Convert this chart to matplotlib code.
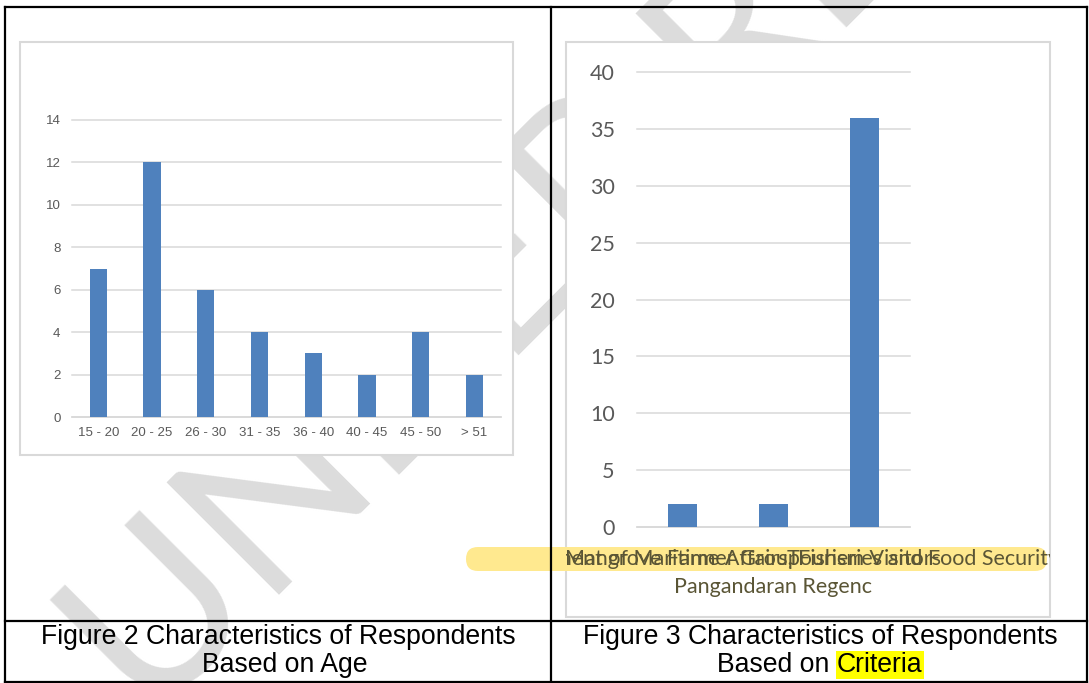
import matplotlib
matplotlib.use("Agg")
import matplotlib.pyplot as plt
from matplotlib.patches import Rectangle, FancyBboxPatch

# ---- data ----
age_groups = ["15 - 20", "20 - 25", "26 - 30", "31 - 35", "36 - 40", "40 - 45", "45 - 50", "> 51"]
age_counts = [7, 12, 6, 4, 3, 2, 4, 2]
age_ticks = list(range(0, 15, 2))

criteria_labels = [
    "Mangrove Farmer Group",
    "Department of Maritime Affairs, Fisheries and Food Security\nPangandaran Regenc",
    "Tourism Visitors",
]
criteria_counts = [2, 2, 36]
criteria_ticks = list(range(0, 41, 5))

caption_left = ["Figure 2 Characteristics of Respondents", "Based on Age"]
caption_right = ["Figure 3 Characteristics of Respondents", "Based on ", "Criteria"]

# ---- styling ----
W, H = 1089, 683
BAR = "#4f81bd"
GRID = "#d9d9d9"
TXT = "#595959"

fig = plt.figure(figsize=(W / 100, H / 100), dpi=100)


def frac(x0, y0, x1, y1):
    """Pixel box (top-left origin) -> figure fraction rect."""
    return [x0 / W, 1 - y1 / H, (x1 - x0) / W, (y1 - y0) / H]


# background layer: page, watermark, chart frames, captions
bg = fig.add_axes([0, 0, 1, 1], zorder=0)
bg.set_xlim(0, W)
bg.set_ylim(H, 0)
bg.axis("off")

bg.text(150, 725, "UNDER REVIEW", rotation=45, rotation_mode="anchor",
        ha="left", va="baseline", fontsize=160, family="Lato",
        fontweight="normal", color="#dcdcdc", zorder=1)

frame_left = Rectangle((20, 42), 493, 413, fc="white", ec=GRID, lw=1.5, zorder=2)
frame_right = Rectangle((566, 42), 484, 575, fc="white", ec=GRID, lw=1.5, zorder=2)
bg.add_patch(frame_left)
bg.add_patch(frame_right)

bg.add_patch(FancyBboxPatch((466, 547), 581, 24,
                            boxstyle="round,pad=0,rounding_size=12",
                            fc="#ffe98f", ec="none", zorder=3))

# ---- left chart: age ----
ax1 = fig.add_axes(frac(71.5, 120, 501.2, 417), zorder=5)
ax1.patch.set_alpha(0)
x1 = range(len(age_groups))
ax1.bar(x1, age_counts, width=0.32, color=BAR, zorder=3)
ax1.set_xlim(-0.5, len(age_groups) - 0.5)
ax1.set_ylim(0, 14)
ax1.set_yticks(age_ticks)
ax1.set_xticks(list(x1))
ax1.set_xticklabels(age_groups)
ax1.yaxis.grid(True, color=GRID, lw=1.1)
for gl in ax1.get_ygridlines():
    gl.set_clip_on(False)
for s in ["top", "left", "right"]:
    ax1.spines[s].set_visible(False)
ax1.spines["bottom"].set_color(GRID)
ax1.spines["bottom"].set_linewidth(1.1)
ax1.tick_params(axis="both", length=0, labelsize=9.5, labelcolor=TXT)
ax1.tick_params(axis="y", pad=8)
ax1.tick_params(axis="x", pad=7)
for t in ax1.get_xticklabels() + ax1.get_yticklabels():
    t.set_family("Liberation Sans")

# ---- right chart: criteria ----
ax2 = fig.add_axes(frac(637, 72, 910, 527), zorder=5)
ax2.patch.set_alpha(0)
x2 = range(len(criteria_labels))
ax2.bar(x2, criteria_counts, width=0.31, color=BAR, zorder=3)
ax2.set_xlim(-0.5, len(criteria_labels) - 0.5)
ax2.set_ylim(0, 40)
ax2.set_yticks(criteria_ticks)
ax2.set_xticks(list(x2))
ax2.set_xticklabels(criteria_labels, linespacing=1.5)
ax2.yaxis.grid(True, color=GRID, lw=1.1)
for gl in ax2.get_ygridlines():
    gl.set_clip_on(False)
for s in ["top", "left", "right"]:
    ax2.spines[s].set_visible(False)
ax2.spines["bottom"].set_color(GRID)
ax2.spines["bottom"].set_linewidth(1.1)
ax2.tick_params(axis="both", length=0, labelsize=15.5, labelcolor=TXT)
ax2.tick_params(axis="y", pad=16)
ax2.tick_params(axis="x", pad=16)
for t in ax2.get_yticklabels():
    t.set_family("Lato")
for t in ax2.get_xticklabels():
    t.set_family("Lato")
    t.set_color("#5a5535")
    t.set_clip_on(True)
    t.set_clip_path(frame_right)

# ---- captions ----
cap_kw = dict(family="Liberation Sans", fontsize=19.2, color="black", zorder=4,
              va="center")
bg.text(278, 637, caption_left[0], ha="center", **cap_kw)
bg.text(285, 665, caption_left[1], ha="center", **cap_kw)
bg.text(820, 637, caption_right[0], ha="center", **cap_kw)

fig.canvas.draw()
r = fig.canvas.get_renderer()
t_a = bg.text(0, 665, caption_right[1], ha="left", **cap_kw)
t_b = bg.text(0, 665, caption_right[2], ha="left", **cap_kw)
wa = t_a.get_window_extent(r).width
wb = t_b.get_window_extent(r).width
x_start = 820 - (wa + wb) / 2
t_a.set_x(x_start)
t_b.set_x(x_start + wa)
t_b.set_bbox(dict(boxstyle="square,pad=0.05", fc="#ffff00", ec="none"))

# ---- table borders ----
ov = fig.add_axes([0, 0, 1, 1], zorder=10)
ov.set_xlim(0, W)
ov.set_ylim(H, 0)
ov.axis("off")
ov.patch.set_alpha(0)
lk = dict(color="black", lw=1.6, solid_capstyle="projecting")
ov.plot([5, 1087], [7, 7], **lk)
ov.plot([5, 1087], [682, 682], **lk)
ov.plot([5, 5], [7, 682], **lk)
ov.plot([1087, 1087], [7, 682], **lk)
ov.plot([551, 551], [7, 682], **lk)
ov.plot([5, 1087], [621, 621], **lk)

fig.savefig("out.png", dpi=100)
